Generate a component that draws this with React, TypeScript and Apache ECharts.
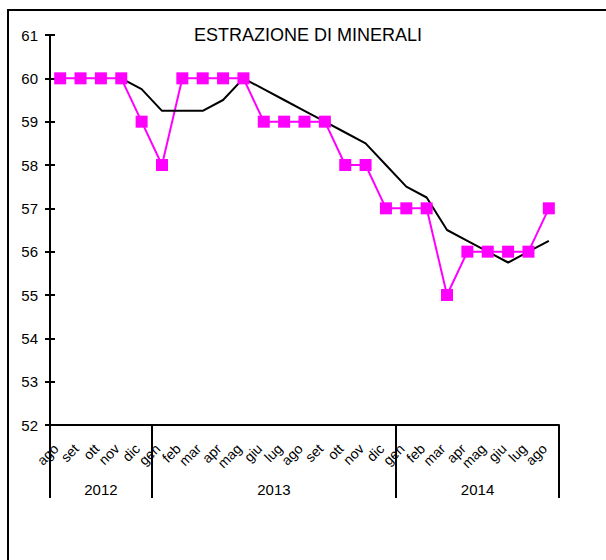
import React, { useEffect, useRef } from "react";
import * as echarts from "echarts";

const months = ["ago", "set", "ott", "nov", "dic", "gen", "feb", "mar", "apr", "mag", "giu", "lug", "ago", "set", "ott", "nov", "dic", "gen", "feb", "mar", "apr", "mag", "giu", "lug", "ago"];
const years = ["2012", "2013", "2014"];
const yearStarts = [0, 5, 17];
const estrazione = [60, 60, 60, 60, 59, 58, 60, 60, 60, 60, 59, 59, 59, 59, 58, 58, 57, 57, 57, 55, 56, 56, 56, 56, 57];
const mediaMobile = [null, null, null, 60, 59.75, 59.25, 59.25, 59.25, 59.5, 60, 59.75, 59.5, 59.25, 59, 58.75, 58.5, 58, 57.5, 57.25, 56.5, 56.25, 56, 55.75, 56, 56.25];
const yMin = 52;
const yMax = 61;
const yStep = 1;
const title = "ESTRAZIONE DI MINERALI";

const FONT = "'Liberation Sans', Arial, sans-serif";

export default function App() {
  const ref = useRef<HTMLDivElement>(null);
  useEffect(() => {
    if (!ref.current) return;
    const chart = echarts.init(ref.current, null, { renderer: "svg" });
    const yAxisBase = {
      type: "value",
      min: yMin,
      max: yMax,
      interval: yStep,
      position: "left",
      splitLine: { show: false },
    };
    chart.setOption({
      animation: false,
      backgroundColor: "#fff",
      grid: { left: 50, right: 47, top: 35, height: 390, containLabel: false },
      xAxis: [
        {
          type: "category",
          data: months,
          boundaryGap: true,
          axisLine: { show: true, lineStyle: { color: "#000", width: 2 } },
          axisTick: {
            show: true,
            length: 73,
            interval: (i: number) => yearStarts.indexOf(i) >= 0,
            lineStyle: { color: "#000", width: 2 },
          },
          axisLabel: {
            interval: 0,
            rotate: 45,
            margin: 17,
            padding: [0, 6, 0, 0],
            color: "#000",
            fontSize: 14,
            fontFamily: FONT,
          },
        },
      ],
      yAxis: [
        {
          ...yAxisBase,
          axisLine: { show: true, lineStyle: { color: "#000", width: 2 } },
          axisTick: { show: true, inside: false, length: 5, lineStyle: { color: "#000", width: 2 } },
          axisLabel: { margin: 12, color: "#000", fontSize: 15, fontFamily: FONT },
        },
        {
          ...yAxisBase,
          axisLine: { show: false },
          axisTick: { show: true, inside: true, length: 5, lineStyle: { color: "#000", width: 2 } },
          axisLabel: { show: false },
        },
      ],
      series: [
        {
          type: "line",
          data: estrazione,
          symbol: "rect",
          symbolSize: 12,
          itemStyle: { color: "#ff00ff" },
          lineStyle: { color: "#ff00ff", width: 2 },
        },
        {
          type: "line",
          data: mediaMobile,
          showSymbol: false,
          symbol: "none",
          lineStyle: { color: "#000", width: 2 },
          itemStyle: { color: "#000" },
        },
      ],
    });

    const yBase = chart.convertToPixel({ yAxisIndex: 0 }, yMin) as number;
    const graphics: any[] = [
      { type: "line", shape: { x1: 7, y1: 10, x2: 606, y2: 10 }, style: { stroke: "#000", lineWidth: 2 } },
      { type: "line", shape: { x1: 8, y1: 10, x2: 8, y2: 560 }, style: { stroke: "#000", lineWidth: 2 } },
      {
        type: "text",
        x: 308,
        y: 35,
        style: { text: title, align: "center", verticalAlign: "middle", fontSize: 18, fontFamily: FONT, fill: "#000" },
      },
    ];
    years.forEach((yr, k) => {
      const s = yearStarts[k];
      const e = k + 1 < yearStarts.length ? yearStarts[k + 1] - 1 : months.length - 1;
      const x0 = chart.convertToPixel({ xAxisIndex: 0 }, s) as number;
      const x1 = chart.convertToPixel({ xAxisIndex: 0 }, e) as number;
      graphics.push({
        type: "text",
        x: (x0 + x1) / 2,
        y: yBase + 64,
        style: { text: yr, align: "center", verticalAlign: "middle", fontSize: 15, fontFamily: FONT, fill: "#000" },
      });
    });
    chart.setOption({ graphic: graphics });
    return () => chart.dispose();
  }, []);
  return <div ref={ref} style={{ position: "absolute", left: 0, top: 0, width: 606, height: 560 }} />;
}
